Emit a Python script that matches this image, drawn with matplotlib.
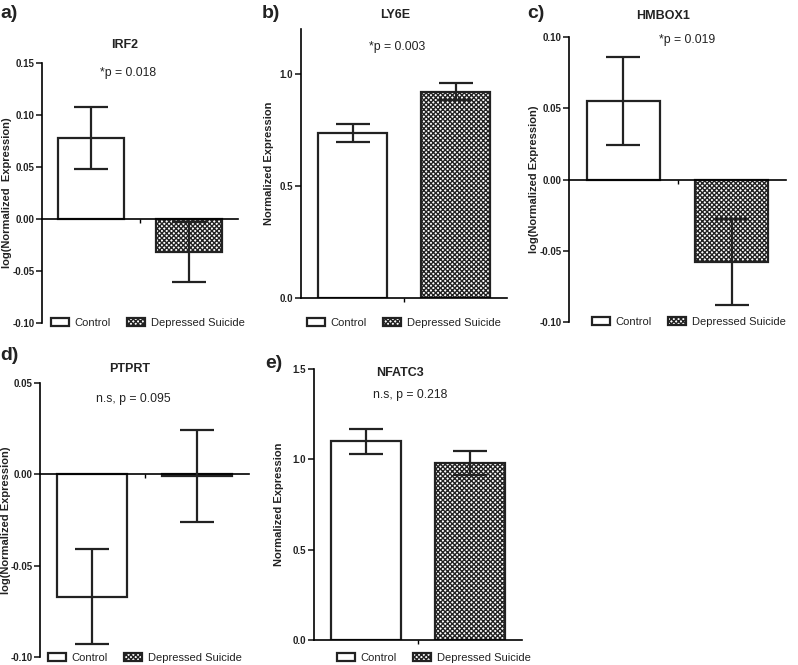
import matplotlib
matplotlib.use("Agg")
import matplotlib.pyplot as plt
from matplotlib.patches import Patch
from matplotlib.ticker import MultipleLocator, FormatStrFormatter

plt.rcParams['font.family'] = ['Liberation Sans', 'DejaVu Sans']
plt.rcParams['hatch.linewidth'] = 1.0

# 数据
groups = ['Control', 'Depressed Suicide']
genes = ['IRF2', 'LY6E', 'HMBOX1', 'PTPRT', 'NFATC3']
panel_tags = ['a)', 'b)', 'c)', 'd)', 'e)']
p_texts = ['*p = 0.018', '*p = 0.003', '*p = 0.019', 'n.s, p = 0.095', 'n.s, p = 0.218']
ylabels = ['log(Normalized  Expression)', 'Normalized Expression',
           'log(Normalized Expression)', 'log(Normalized Expression)',
           'Normalized Expression']
means_irf2 = [0.078, -0.032]
sem_irf2 = [0.030, 0.029]
means_ly6e = [0.736, 0.921]
sem_ly6e = [0.040, 0.038]
means_hmbox1 = [0.055, -0.058]
sem_hmbox1 = [0.031, 0.030]
means_ptprt = [-0.067, -0.001]
sem_ptprt = [0.026, 0.025]
means_nfatc3 = [1.100, 0.980]
sem_nfatc3 = [0.068, 0.065]
all_means = [means_irf2, means_ly6e, means_hmbox1, means_ptprt, means_nfatc3]
all_sems = [sem_irf2, sem_ly6e, sem_hmbox1, sem_ptprt, sem_nfatc3]
ylims = [(-0.10, 0.15), (0, 1.2), (-0.10, 0.10), (-0.10, 0.05), (0, 1.5)]
ysteps = [0.05, 0.5, 0.05, 0.05, 0.5]
yfmts = ['%.2f', '%.1f', '%.2f', '%.2f', '%.1f']

W, H = 798, 665
fig = plt.figure(figsize=(W / 100, H / 100), dpi=100)

# 版面位置（像素）: 轴框 left, top, right, bottom
boxes = [(42, 63, 238, 323), (301, 29, 507, 298), (569, 37, 786, 322),
         (40, 383, 249, 657), (314, 369, 522, 640)]
ylabel_x = [7, 269, 534, 6, 279]
title_pos = [(125, 45), (395, 15), (663, 16), (130, 369), (400, 373)]
ptext_pos = [(128, 73), (397, 47), (687, 40), (133, 399), (410, 395)]
tag_pos = [(0, 13), (262, 13), (527, 13), (0, 355), (265, 363)]
legend_pos = [(51, 323), (307, 323), (592, 322), (48, 658), (337, 658)]

hatch = 'xxxxxxx'

for i in range(5):
    l, t, r, b = boxes[i]
    ax = fig.add_axes([l / W, 1 - b / H, (r - l) / W, (b - t) / H])
    x = [0, 1]
    ax.bar(x[0], all_means[i][0], width=0.67, color='white', edgecolor='#222222',
           linewidth=1.6, zorder=2)
    ax.bar(x[1], all_means[i][1], width=0.67, color='white', edgecolor='#222222',
           linewidth=1.6, hatch=hatch, zorder=2)
    ax.errorbar(x, all_means[i], yerr=all_sems[i], fmt='none', ecolor='#222222',
                elinewidth=1.6, capsize=12.5, capthick=1.6, zorder=3)
    ax.set_xlim(-0.5, 1.5)
    ax.set_ylim(*ylims[i])
    ax.yaxis.set_major_locator(MultipleLocator(ysteps[i]))
    ax.yaxis.set_major_formatter(FormatStrFormatter(yfmts[i]))
    ax.set_xticks([0.5])
    ax.set_xticklabels([''])
    for s in ['top', 'right']:
        ax.spines[s].set_visible(False)
    ax.spines['left'].set_linewidth(1.2)
    ax.spines['bottom'].set_linewidth(1.2)
    if ylims[i][0] < 0:
        ax.spines['bottom'].set_position(('data', 0))
    ax.tick_params(axis='y', direction='out', length=4, width=1.2, pad=1.5,
                   labelsize=7.0, colors='#222222')
    ax.tick_params(axis='x', direction='out', length=3, width=1.0)
    for lab in ax.get_yticklabels():
        lab.set_fontweight('bold')
    ax.patch.set_alpha(0)

    fig.text(ylabel_x[i] / W, 1 - ((t + b) / 2) / H, ylabels[i], rotation=90,
             ha='center', va='center', fontsize=8.0, fontweight='bold', color='#222222')
    fig.text(title_pos[i][0] / W, 1 - title_pos[i][1] / H, genes[i], ha='center',
             va='center', fontsize=9, fontweight='bold', color='#222222')
    fig.text(ptext_pos[i][0] / W, 1 - ptext_pos[i][1] / H, p_texts[i], ha='center',
             va='center', fontsize=8.8, color='#222222')
    fig.text(tag_pos[i][0] / W, 1 - tag_pos[i][1] / H, panel_tags[i], ha='left',
             va='center', fontsize=14, fontweight='bold', color='#222222')

    handles = [Patch(facecolor='white', edgecolor='#222222', linewidth=1.6),
               Patch(facecolor='white', edgecolor='#222222', linewidth=1.6, hatch=hatch)]
    fig.legend(handles, groups, loc='center left',
               bbox_to_anchor=(legend_pos[i][0] / W, 1 - legend_pos[i][1] / H),
               ncol=2, frameon=False, fontsize=8, handlelength=1.6, handleheight=0.75,
               handletextpad=0.5, columnspacing=1.5, borderpad=0, borderaxespad=0,
               labelcolor='#222222')

fig.savefig('out.png', dpi=100)
